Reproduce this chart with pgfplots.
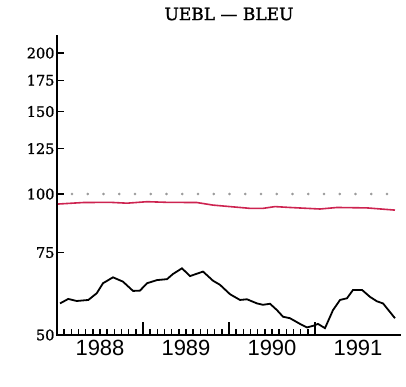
\documentclass[border=0pt]{standalone}
\usepackage{fontspec}
\setmainfont{DejaVu Serif}[FakeBold=1.2, Ligatures=TeX]
\newfontfamily\titlefont{DejaVu Serif}[FakeBold=1.5, Ligatures=TeX]
\newfontfamily\yearfont{Liberation Sans}
\usepackage{pgfplots}
\pgfplotsset{compat=1.18}
\definecolor{redline}{RGB}{205,35,80}
\begin{document}
\begin{tikzpicture}
\begin{axis}[
  scale only axis, width=344pt, height=300pt,
  ymode=log, ymin=50, ymax=218.6,
  xmin=1988, xmax=1992,
  axis x line*=bottom, axis y line*=left,
  axis line style={-, line width=1.6pt},
  xtick pos=bottom, ytick pos=left,
  tick align=inside,
  ytick={50,75,100,125,150,175,200},
  yticklabels={50,75,100,125,150,175,200},
  minor ytick={},
  yticklabel style={font=\fontsize{14.5}{15}\selectfont, xshift=1pt},
  major tick length=6pt,
  xtick={1988,1989,1990,1991},
  xticklabels={1988,1989,1990,1991},
  xticklabel style={font=\yearfont\fontsize{22}{24}\selectfont, xshift=43pt, yshift=-2pt},
  minor x tick num=11,
  minor tick length=5pt,
  tick style={line width=1.4pt, black, solid, line cap=rect},
  minor tick style={line width=1.4pt, black, solid},
  extra x ticks={1989,1990,1991},
  extra x tick labels={},
  extra x tick style={major tick length=12pt},
  title={UEBL --- BLEU},
  title style={at={(0.5,1)}, anchor=center, yshift=15pt, font=\titlefont\fontsize{17}{18}\selectfont},
  clip=false,
]
\coordinate (sw) at (rel axis cs:0,0);
\addplot[only marks, mark=*, mark size=1.1pt, color=gray!80] coordinates {
(1988.174,100) (1988.357,100) (1988.540,100) (1988.723,100) (1988.907,100)
(1989.090,100) (1989.273,100) (1989.456,100) (1989.639,100) (1989.822,100)
(1990.005,100) (1990.189,100) (1990.372,100) (1990.555,100) (1990.738,100)
(1990.921,100) (1991.104,100) (1991.287,100) (1991.470,100) (1991.654,100)
(1991.837,100)};
\addplot[redline, line width=1.6pt] coordinates {
(1988.012,95.2) (1988.302,95.9) (1988.616,96.0) (1988.814,95.6) (1989.047,96.3)
(1989.279,96.0) (1989.628,95.9) (1989.814,94.7) (1990.012,94.0) (1990.244,93.2)
(1990.395,93.2) (1990.535,94.0) (1990.709,93.6) (1991.058,92.9) (1991.256,93.6)
(1991.605,93.4) (1991.930,92.4)};
\addplot[black, line width=1.8pt] coordinates {
(1988.035,58.4) (1988.131,59.7) (1988.229,59.1) (1988.364,59.4) (1988.462,61.4)
(1988.535,64.5) (1988.651,66.4) (1988.767,65.0) (1988.884,62.1) (1988.965,62.2)
(1989.047,64.5) (1989.163,65.5) (1989.279,65.8) (1989.349,67.5) (1989.453,69.4)
(1989.547,66.8) (1989.698,68.3) (1989.814,65.3) (1989.895,64.0) (1990.012,61.1)
(1990.128,59.4) (1990.209,59.6) (1990.326,58.4) (1990.395,58.0) (1990.477,58.3)
(1990.558,56.5) (1990.628,54.7) (1990.709,54.3) (1990.826,52.8) (1990.907,51.9)
(1990.977,52.3) (1991.035,52.8) (1991.116,51.7) (1991.209,56.5) (1991.291,59.4)
(1991.372,59.9) (1991.442,62.4) (1991.547,62.4) (1991.640,60.3) (1991.721,59.0)
(1991.791,58.4) (1991.930,54.3)};
\end{axis}
\pgfresetboundingbox
\path ([shift={(-57pt,-52pt)}]sw) rectangle ([shift={(349pt,335pt)}]sw);
\end{tikzpicture}
\end{document}
